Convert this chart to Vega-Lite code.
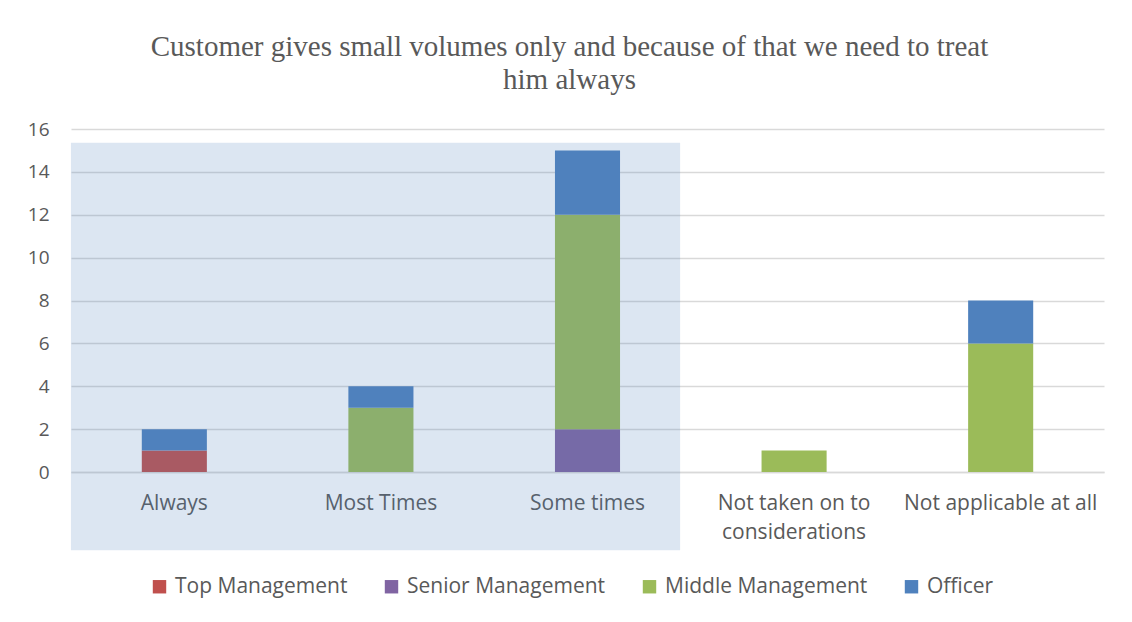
{
  "$schema": "https://vega.github.io/schema/vega-lite/v6.json",
  "width": 1033,
  "height": 343,
  "autosize": {"type": "none"},
  "padding": {"left": 71, "top": 129, "right": 28, "bottom": 150},
  "background": "white",
  "title": {
    "text": ["Customer gives small volumes only and because of that we need to treat", "him always"],
    "font": "Liberation Serif",
    "fontSize": 29,
    "fontWeight": "normal",
    "color": "#595959",
    "anchor": "middle",
    "frame": "group",
    "dx": -18,
    "offset": 25,
    "lineHeight": 33
  },
  "config": {
    "view": {"stroke": null},
    "font": "Open Sans"
  },
  "data": {
    "values": [
      {"response": "Always", "group": "Top Management", "level": 1, "count": 1},
      {"response": "Always", "group": "Officer", "level": 4, "count": 1},
      {"response": "Most Times", "group": "Middle Management", "level": 3, "count": 3},
      {"response": "Most Times", "group": "Officer", "level": 4, "count": 1},
      {"response": "Some times", "group": "Senior Management", "level": 2, "count": 2},
      {"response": "Some times", "group": "Middle Management", "level": 3, "count": 10},
      {"response": "Some times", "group": "Officer", "level": 4, "count": 3},
      {"response": "Not taken on to considerations", "group": "Middle Management", "level": 3, "count": 1},
      {"response": "Not applicable at all", "group": "Middle Management", "level": 3, "count": 6},
      {"response": "Not applicable at all", "group": "Officer", "level": 4, "count": 2}
    ]
  },
  "layer": [
    {
      "mark": {"type": "bar"},
      "encoding": {
        "x": {
          "field": "response",
          "type": "nominal",
          "sort": ["Always", "Most Times", "Some times", "Not taken on to considerations", "Not applicable at all"],
          "scale": {"paddingInner": 0.685, "paddingOuter": 0.3427},
          "axis": {
            "title": null,
            "labelAngle": 0,
            "labelFont": "Open Sans",
            "labelFontSize": 21,
            "labelColor": "#595959",
            "labelPadding": 20,
            "labelLimit": 0,
            "labelLineHeight": 29,
            "labelExpr": "datum.label == 'Not taken on to considerations' ? ['Not taken on to', 'considerations'] : datum.label",
            "ticks": false,
            "tickSize": 0,
            "domain": true,
            "domainColor": "#D9D9D9",
            "domainWidth": 1.5
          }
        },
        "y": {
          "field": "count",
          "type": "quantitative",
          "stack": "zero",
          "scale": {"domain": [0, 16], "nice": false},
          "axis": {
            "title": null,
            "values": [0, 2, 4, 6, 8, 10, 12, 14, 16],
            "domain": false,
            "ticks": false,
            "tickSize": 0,
            "labelFont": "Open Sans",
            "labelFontSize": 19,
            "labelColor": "#595959",
            "labelPadding": 22,
            "gridColor": "#D9D9D9",
            "gridWidth": 1.5
          }
        },
        "order": {"field": "level", "type": "quantitative", "sort": "ascending"},
        "color": {
          "field": "group",
          "type": "nominal",
          "sort": ["Top Management", "Senior Management", "Middle Management", "Officer"],
          "scale": {
            "domain": ["Top Management", "Senior Management", "Middle Management", "Officer"],
            "range": ["#C0504D", "#8064A2", "#9BBB59", "#4F81BD"]
          },
          "legend": {
            "title": null,
            "orient": "none",
            "legendX": 78,
            "legendY": 447,
            "direction": "horizontal",
            "symbolType": "square",
            "symbolSize": 180,
            "symbolStrokeWidth": 0,
            "labelFont": "Open Sans",
            "labelFontSize": 21,
            "labelColor": "#595959",
            "labelOffset": 5,
            "labelLimit": 0,
            "columnPadding": 33
          }
        }
      }
    },
    {
      "data": {"values": [{}]},
      "mark": {"type": "rect", "fill": "#4F81BD", "opacity": 0.2},
      "encoding": {
        "x": {"datum": "Always", "bandPosition": -1.089},
        "x2": {"datum": "Some times", "bandPosition": 1.923},
        "y": {"datum": 15.36},
        "y2": {"datum": -3.65}
      }
    }
  ]
}
